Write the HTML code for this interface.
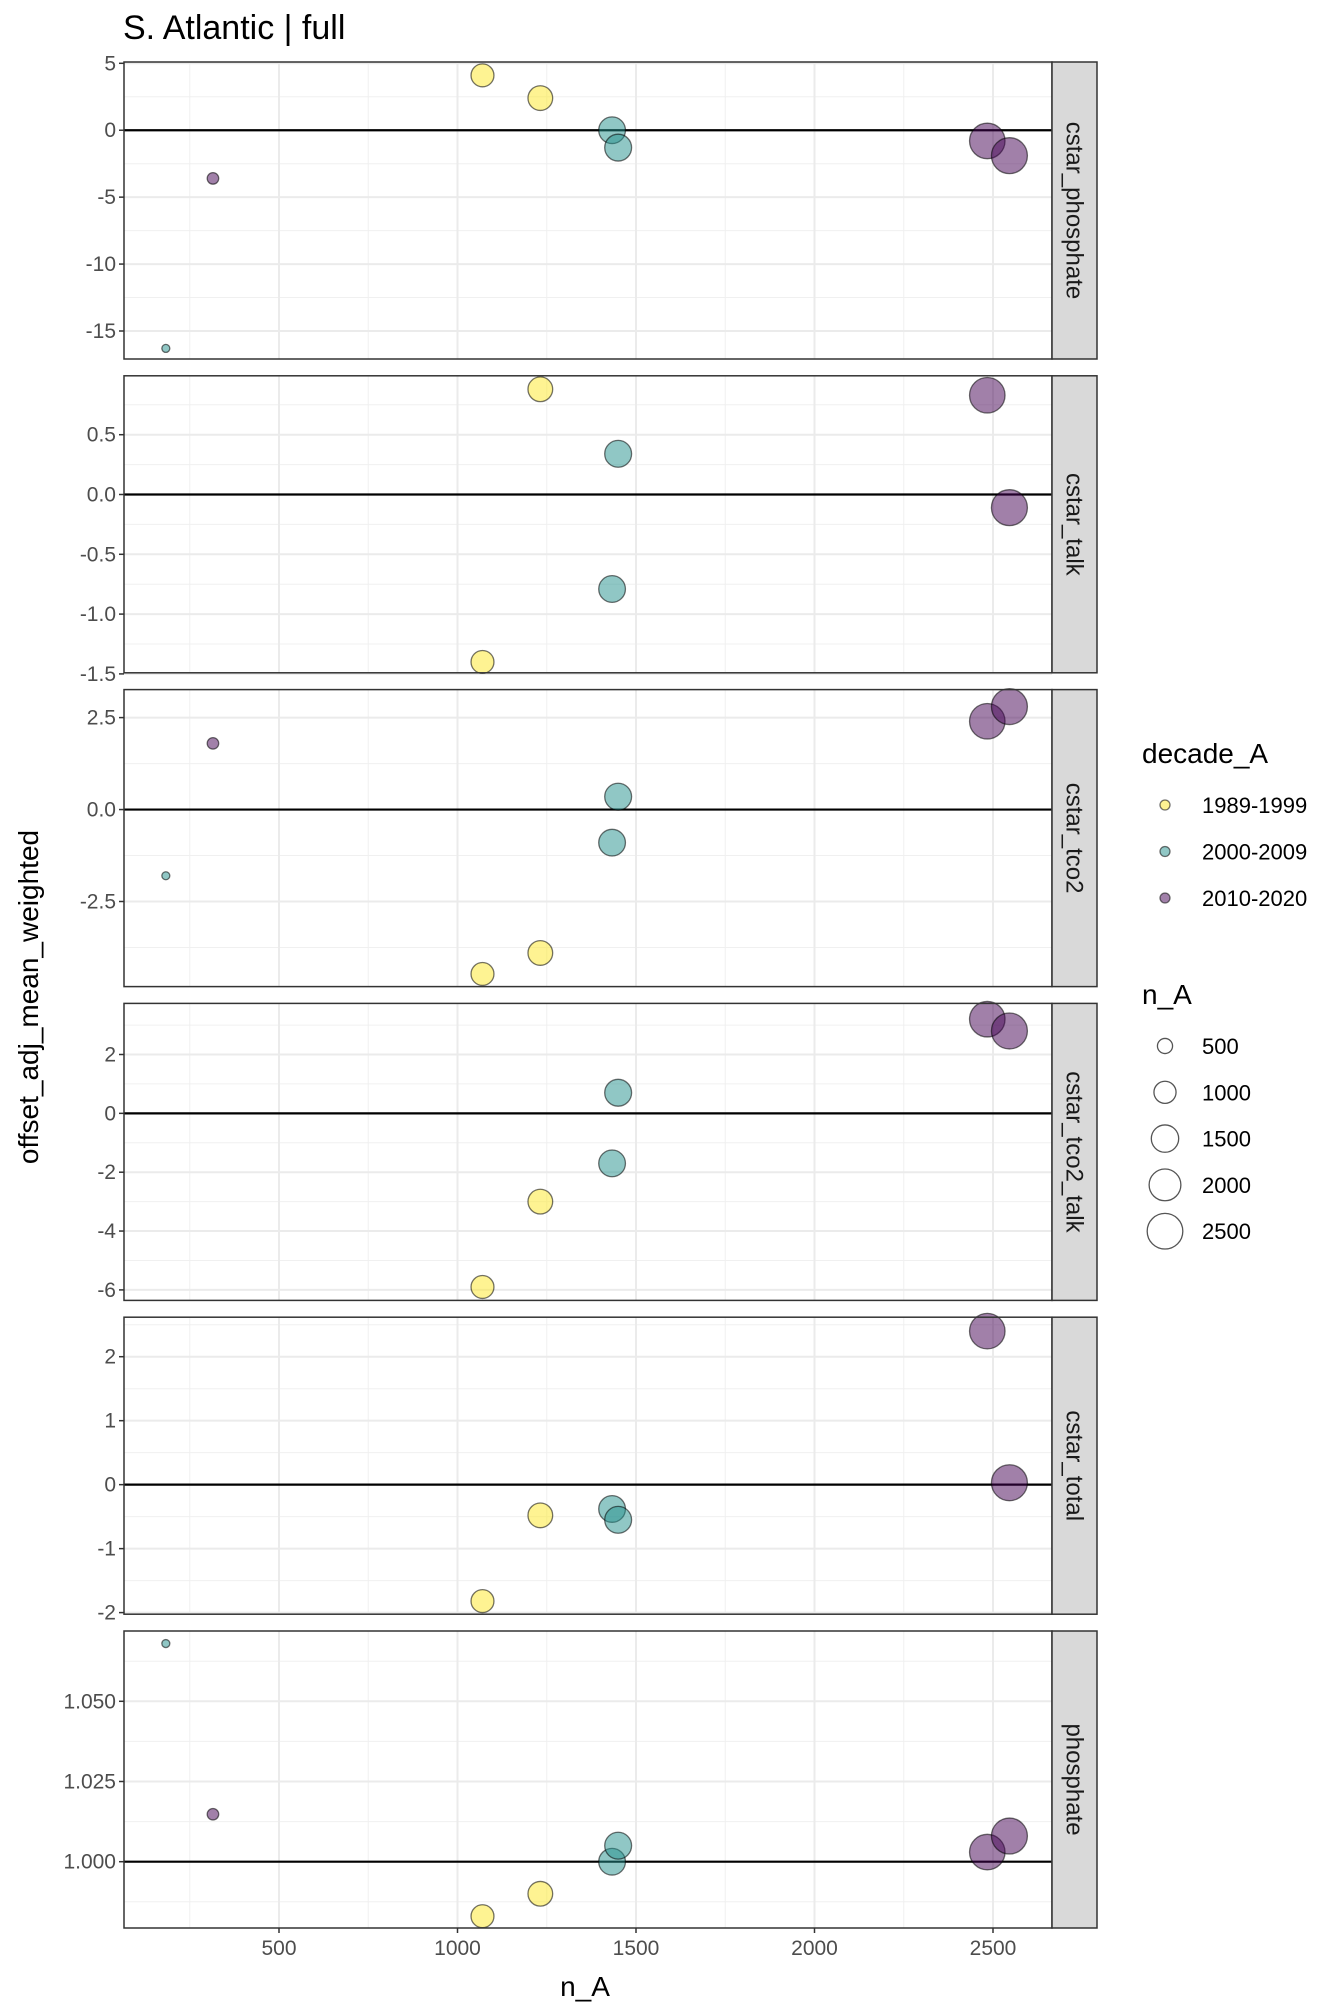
<!DOCTYPE html>
<html><head><meta charset="utf-8"><style>
body{margin:0;background:#fff}
svg{display:block;font-family:"Liberation Sans",sans-serif}
</style></head><body>
<svg id="chart" width="1344" height="2016" viewBox="0 0 1344 2016">
<text x="123" y="39" font-size="34" fill="#000">S. Atlantic | full</text>
<text x="585" y="1996" font-size="28" text-anchor="middle" fill="#000">n_A</text>
<text transform="translate(38,997) rotate(-90)" font-size="28" text-anchor="middle" fill="#000">offset_adj_mean_weighted</text>
<g id="panels"></g>
<g id="legend"></g>
</svg>
<script>
const panelNames = ["cstar_phosphate","cstar_talk","cstar_tco2","cstar_tco2_talk","cstar_total","phosphate"];
const seriesDecade = ["1989-1999","1989-1999","2000-2009","2000-2009","2010-2020","2010-2020","2010-2020","2000-2009"];
const seriesN = [1070,1232,1433,1450,2484,2546,315,183];
const yValues = [
  [4.1,2.4,0.0,-1.3,-0.8,-1.9,-3.6,-16.3],
  [-1.40,0.88,-0.79,0.34,0.83,-0.11,null,null],
  [-4.47,-3.9,-0.9,0.35,2.4,2.8,1.8,-1.8],
  [-5.9,-3.0,-1.7,0.7,3.2,2.8,null,null],
  [-1.82,-0.48,-0.38,-0.55,2.4,0.03,null,null],
  [0.983,0.990,1.000,1.005,1.003,1.008,1.0148,1.068]
];
const yTicks = [[5,0,-5,-10,-15],[0.5,0.0,-0.5,-1.0,-1.5],[2.5,0.0,-2.5],[2,0,-2,-4,-6],[2,1,0,-1,-2],[1.050,1.025,1.000]];
const yTickLabels = [["5","0","-5","-10","-15"],["0.5","0.0","-0.5","-1.0","-1.5"],["2.5","0.0","-2.5"],["2","0","-2","-4","-6"],["2","1","0","-1","-2"],["1.050","1.025","1.000"]];
const xTicks = [500,1000,1500,2000,2500];
const legendDecades = ["1989-1999","2000-2009","2010-2020"];
const legendSizes = [500,1000,1500,2000,2500];

const colors = {"1989-1999":"#FDE725","2000-2009":"#21908C","2010-2020":"#440154"};
const yCal = [[63.3,331],[434.7,673.9],[717.6,901.5],[1054.5,1289.9],[1356.7,1612.6],[1701.3,1861.7]];
const PL=124, PR=1052, SR=1097, PH=297;
const panelTop = i => 62 + i*313.8;
const xs = v => 100.5 + v*0.357;
function ysFn(i){const t=yTicks[i];const a=t[0],b=t[t.length-1];const pa=yCal[i][0],pb=yCal[i][1];return v=>pa+(v-a)*(pb-pa)/(b-a);}
const rr = n => Math.sqrt(Math.max(4,16+0.13*(n-183)));
const NS="http://www.w3.org/2000/svg";
function mk(tag,attrs,parent){const e=document.createElementNS(NS,tag);for(const k in attrs)e.setAttribute(k,attrs[k]);parent.appendChild(e);return e;}
const G=document.getElementById('panels');
panelNames.forEach((name,i)=>{
  const top=panelTop(i), bot=top+PH, ys=ysFn(i);
  const g=mk('g',{},G);
  
  
  mk('rect',{x:PL,y:top,width:PR-PL,height:PH,fill:'#fff'},g);
  for(let v=250;v<2700;v+=500){const x=xs(v);if(x>PL&&x<PR)mk('line',{x1:x,x2:x,y1:top,y2:bot,stroke:'#f0f0f0','stroke-width':1},g);}
  const t=yTicks[i];const step=t[1]-t[0];
  for(let k=-3;k<t.length+3;k++){const v=t[0]+(k+0.5)*step;const y=ys(v);if(y>top&&y<bot)mk('line',{x1:PL,x2:PR,y1:y,y2:y,stroke:'#f0f0f0','stroke-width':1},g);}
  xTicks.forEach(v=>{const x=xs(v);mk('line',{x1:x,x2:x,y1:top,y2:bot,stroke:'#ebebeb','stroke-width':2},g);});
  t.forEach((v,j)=>{const y=ys(v);mk('line',{x1:PL,x2:PR,y1:y,y2:y,stroke:'#ebebeb','stroke-width':2},g);
    mk('line',{x1:PL-5,x2:PL,y1:y,y2:y,stroke:'#333','stroke-width':1.5},g);
    const tx=mk('text',{x:PL-8,y:y+7,'font-size':21,'text-anchor':'end',fill:'#4d4d4d'},g);tx.textContent=yTickLabels[i][j];
    
    
  });
  const zy=ys(i===5?1:0);
  const hl=mk('line',{x1:PL,x2:PR,y1:zy,y2:zy,stroke:'#000','stroke-width':2.2},g);
  
  
  yValues[i].forEach((v,k)=>{if(v===null)return;
    const c=mk('circle',{cx:xs(seriesN[k]),cy:ys(v),r:rr(seriesN[k]),fill:colors[seriesDecade[k]],'fill-opacity':0.5,stroke:'#000','stroke-opacity':0.55,'stroke-width':1.3},g);
    
    
  });
  mk('rect',{x:PL,y:top,width:PR-PL,height:PH,fill:'none',stroke:'#333','stroke-width':1.5},g);
  const s=mk('rect',{x:PR,y:top,width:SR-PR,height:PH,fill:'#d9d9d9',stroke:'#333','stroke-width':1.5},g);
  
  
  const st=mk('text',{transform:`translate(${PR+(SR-PR)/2-8},${top+PH/2}) rotate(90)`,'font-size':24,'text-anchor':'middle',fill:'#1a1a1a'},g);
  st.textContent=name;
  
  
  if(i===5){xTicks.forEach(v=>{const x=xs(v);mk('line',{x1:x,x2:x,y1:bot,y2:bot+5,stroke:'#333','stroke-width':1.5},g);
    const tx=mk('text',{x:x,y:bot+27,'font-size':21,'text-anchor':'middle',fill:'#4d4d4d'},g);tx.textContent=String(v);
    
    });}
});
const L=document.getElementById('legend');
const t1=mk('text',{x:1142,y:763,'font-size':28,fill:'#000'},L);t1.textContent='decade_A';


legendDecades.forEach((d,k)=>{const y=805+k*46.5;
  const c=mk('circle',{cx:1165,cy:y,r:5,fill:colors[d],'fill-opacity':0.5,stroke:'#000','stroke-opacity':0.55,'stroke-width':1.3},L);
  
  
  const tx=mk('text',{x:1202,y:y+8,'font-size':22,fill:'#000'},L);tx.textContent=d;
  
  });
const t2=mk('text',{x:1142,y:1004,'font-size':28,fill:'#000'},L);t2.textContent='n_A';


legendSizes.forEach((n,k)=>{const y=1046+k*46.3;
  const c=mk('circle',{cx:1165,cy:y,r:rr(n),fill:'none',stroke:'#555','stroke-width':1.3},L);
  
  
  const tx=mk('text',{x:1202,y:y+8,'font-size':22,fill:'#000'},L);tx.textContent=String(n);
  
  });
</script>
</body></html>
